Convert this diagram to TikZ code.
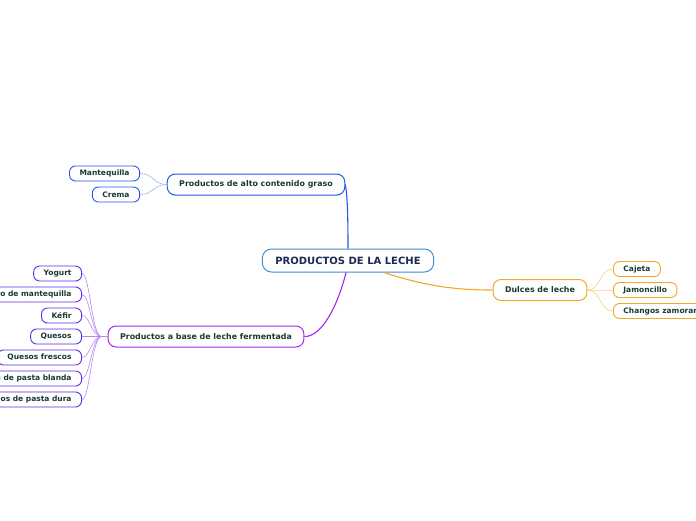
\documentclass[tikz,border=0pt]{standalone}
\usepackage{fontspec}
\setmainfont{DejaVu Sans}
\usepackage{xcolor}
\definecolor{mmText}{HTML}{173A32}
\definecolor{mmNavy}{HTML}{1A2A52}
\definecolor{mmRoot}{HTML}{3C8DD6}
\definecolor{mmBlue}{HTML}{2255E8}
\definecolor{mmPurple}{HTML}{A526F0}
\definecolor{mmViolet}{HTML}{5A2EE8}
\definecolor{mmOrange}{HTML}{F5A623}

\begin{document}
\begin{tikzpicture}[x=1pt,y=-1pt]
  \tikzset{
    rootbox/.style={draw=mmRoot,line width=1pt,rounded corners=9pt,minimum height=23pt,inner xsep=13pt,font=\fontsize{10}{12}\selectfont\bfseries,text=mmNavy},
    mainbox/.style={line width=1pt,rounded corners=8pt,minimum height=21pt,inner xsep=12pt,font=\fontsize{7.9}{9}\selectfont\bfseries,text=mmText},
    leafbox/.style={line width=0.9pt,rounded corners=6pt,minimum height=15pt,inner xsep=10pt,font=\fontsize{7.5}{8}\selectfont\bfseries,text=mmText},
    twig/.style={line width=0.6pt}
  }
  \useasboundingbox (0,0) rectangle (696,520);

  \node[rootbox] (root) at (348,260.5) {PRODUCTOS DE LA LECHE};

  \node[mainbox,draw=mmBlue] (graso) at (256,184.5) {Productos de alto contenido graso};
  \node[mainbox,draw=mmPurple] (ferm) at (206,336.5) {Productos a base de leche fermentada};
  \node[mainbox,draw=mmOrange] (dulces) at (540,290) {Dulces de leche};

  \draw[mmBlue,line width=1.1pt] (root.north) .. controls (348,210) and (347,192) .. (graso.east);
  \draw[mmPurple,line width=1.1pt] ([xshift=-2pt]root.south) .. controls (338,305) and (322,337) .. (ferm.east);
  \draw[mmOrange,line width=1.1pt] ([xshift=36pt]root.south) .. controls (425,286) and (455,290) .. (dulces.west);

  % alto contenido graso
  \node[leafbox,draw=mmBlue,anchor=east] (mantequilla) at (140,173.5) {Mantequilla};
  \node[leafbox,draw=mmBlue,anchor=east] (crema) at (140,194.5) {Crema};
  \foreach \n in {mantequilla,crema}
    \draw[twig,mmBlue!45] (graso.west) .. controls +(-14,0) and +(14,0) .. (\n.east);

  % leche fermentada
  \foreach \n/\y/\t in {yogurt/273.5/Yogurt,suero/294.5/Suero de mantequilla,kefir/315.5/Kéfir,quesos/336.5/Quesos,frescos/357.5/Quesos frescos,blanda/378.5/Quesos de pasta blanda,dura/399.5/Quesos de pasta dura}
    {\node[leafbox,draw=mmViolet,anchor=east] (\n) at (82,\y) {\t};
     \draw[twig,mmPurple!40!mmViolet!55] (ferm.west) -- +(-6,0) .. controls +(-10,0) and +(8,0) .. (\n.east);}

  % dulces
  \foreach \n/\y/\t in {cajeta/269/Cajeta,jamoncillo/290/Jamoncillo,changos/311/Changos zamoranos}
    {\node[leafbox,draw=mmOrange,anchor=west] (\n) at (613,\y) {\t};
     \draw[twig,mmOrange!55] (dulces.east) .. controls +(14,0) and +(-14,0) .. (\n.west);}
\end{tikzpicture}
\end{document}
